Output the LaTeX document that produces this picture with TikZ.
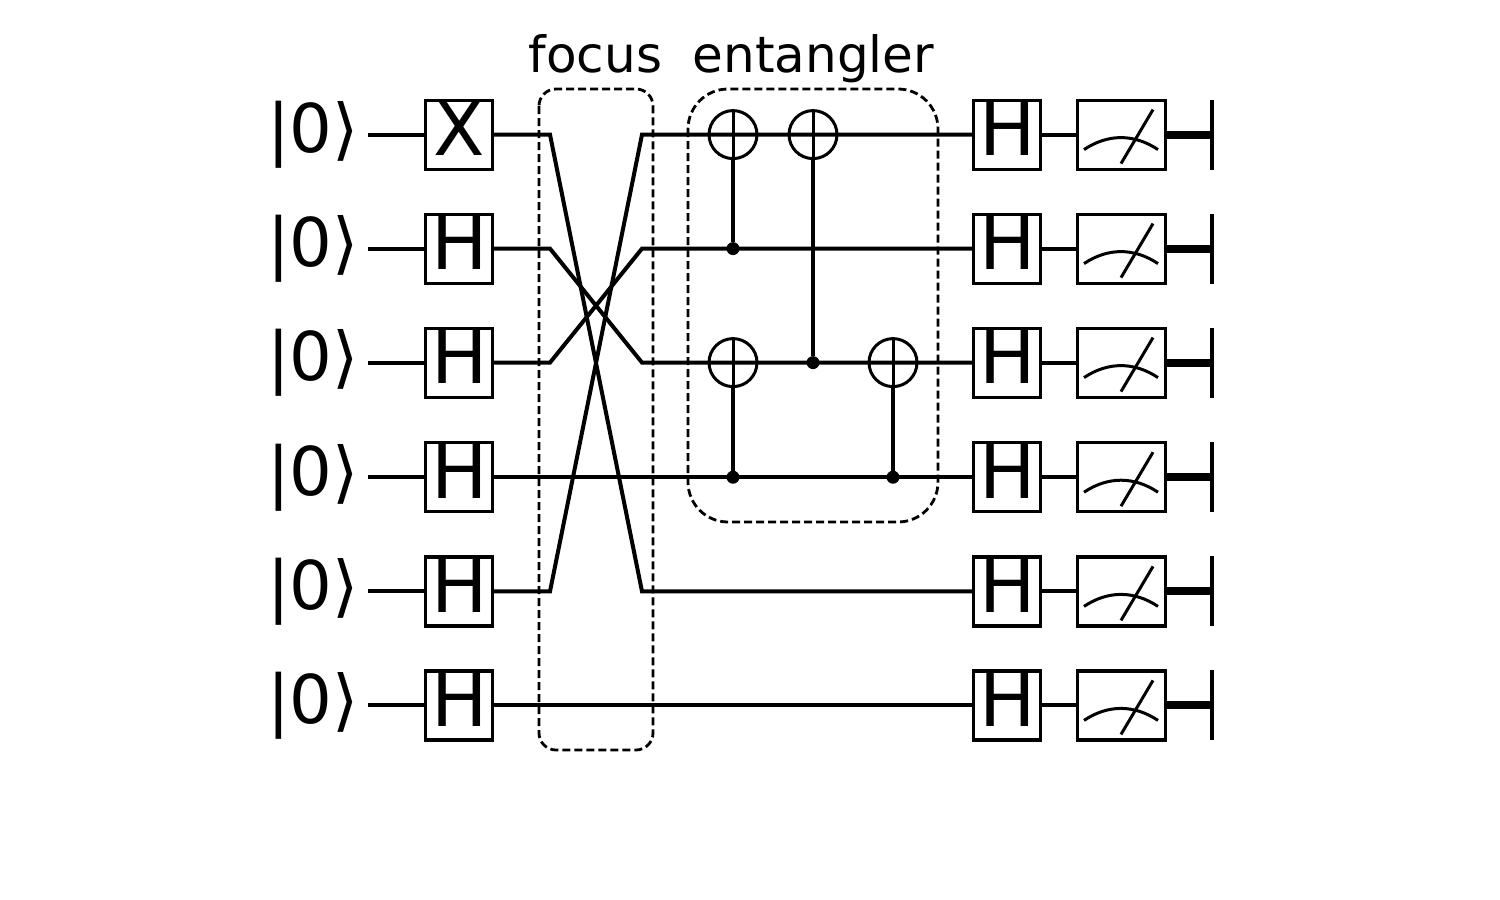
\documentclass[tikz,border=0pt]{standalone}
\usepackage{fontspec}
\setmainfont{DejaVu Sans}
\tikzset{
  x=0.5pt,y=-0.5pt,
  wire/.style={line width=2pt,line join=miter},
  gatebox/.style={draw=black,fill=white,line width=1.6pt,minimum width=33.5pt,minimum height=34.5pt,inner sep=0pt,outer sep=0pt},
  measbox/.style={draw=black,fill=white,line width=1.6pt,minimum width=44pt,minimum height=34.5pt,inner sep=0pt,outer sep=0pt},
  gatelabel/.style={anchor=base,inner sep=0pt,font=\fontsize{37.5pt}{37.5pt}\selectfont},
  ketlabel/.style={anchor=base,inner sep=0pt,font=\fontsize{33.6pt}{33.6pt}\selectfont},
  titlelabel/.style={anchor=base,inner sep=0pt,font=\fontsize{25pt}{25pt}\selectfont},
  target/.style={circle,draw=black,line width=1.5pt,minimum size=24pt,inner sep=0pt,outer sep=0pt},
  ctrl/.style={circle,fill=black,minimum size=6.5pt,inner sep=0pt,outer sep=0pt},
  dashbox/.style={draw=black,line width=1.4pt,dash pattern=on 4pt off 2pt},
  needle/.style={line width=1.5pt},
}
\begin{document}
\begin{tikzpicture}
\useasboundingbox (0,0) rectangle (1500,900);
% coordinates of the wires
\foreach \i/\y/\p in {1/134.6/591.4,2/248.6/362.6,3/362.6/248.6,4/477.2/477.2,5/591.4/134.6,6/705.4/705.4}{
  \coordinate (w\i) at (368,\y);
  \coordinate (s\i) at (550,\y);
  \coordinate (e\i) at (642,\p);
  \coordinate (b\i) at (1212,\y);
  \coordinate (bt\i) at (1212,\y-35);
  \coordinate (bb\i) at (1212,\y+35);
  \coordinate (gc\i) at (459,\y);
  \coordinate (hc\i) at (1007,\y);
  \coordinate (mc\i) at (1121.5,\y);
}
% wires
\foreach \i in {1,...,6}{
  \draw[wire] (w\i) -- (gc\i);
  \draw[wire] (gc\i) -- (s\i) -- (e\i) -- (e\i -| hc1);
  \draw[wire] (hc\i) -- (mc\i);
}
\foreach \i/\y/\g in {1/134.6/X,2/248.6/H,3/362.6/H,4/477.2/H,5/591.4/H,6/705.4/H}{
  \node[ketlabel] (ket\i) at (313,\y+18) {|0⟩};
  \node[gatebox] (ga\i) at (gc\i) {};
  \node[gatelabel] (gl\i) at (459.5,\y+21) {\g};
  \node[gatebox] (gb\i) at (hc\i) {};
  \node[gatelabel] (gbl\i) at (1007.5,\y+21) {H};
  \node[measbox] (m\i) at (mc\i) {};
  \draw[needle] (1084,\y+15) .. controls (1108,\y-1) and (1134,\y-1) .. (1158,\y+15);
  \draw[needle] (1153,\y-25) -- (1121,\y+29);
  \draw[line width=4pt] (m\i.east) -- (b\i);
  \draw[line width=1.6pt] (bt\i) -- (bb\i);
}
% CNOTs
\foreach \n/\x/\t/\c in {a/733/134.6/248.6,b/813/134.6/362.6,c/733/362.6/477.2,d/893/362.6/477.2}{
  \node[target] (t\n) at (\x,\t) {};
  \node[ctrl] (c\n) at (\x,\c) {};
  \draw[needle] (t\n.north) -- (t\n.south);
  \draw[wire] (t\n.south) -- (c\n);
}
% dashed groups
\draw[dashbox,rounded corners=8.5pt] (539,89) rectangle (653,750);
\draw[dashbox,rounded corners=20pt] (688,89) rectangle (938,522);
\node[titlelabel] (focus) at (595.5,72) {focus};
\node[titlelabel] (entangler) at (813.5,72) {entangler};
\end{tikzpicture}
\end{document}
